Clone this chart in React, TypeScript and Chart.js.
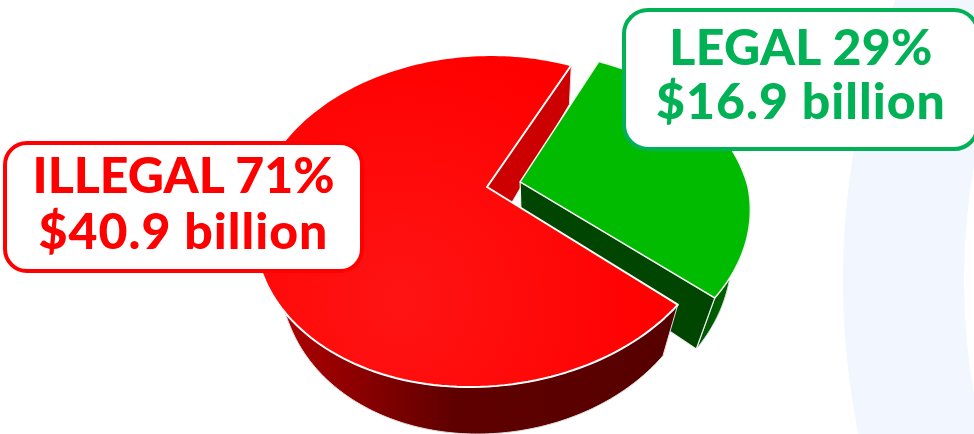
import React, { useEffect, useRef } from "react";
import { Chart, registerables } from "chart.js";

Chart.register(...registerables);

const categories = ["ILLEGAL", "LEGAL"];
const billions = [40.9, 16.9];
const shares = ["71%", "29%"];
const amounts = ["$40.9 billion", "$16.9 billion"];
const sliceColors = ["#ff0000", "#00bb00"];
const explodeOffsets = [0, 34];

const CX = 487, CY = 187, RX = 228, RY = 159, K = 0.205;
const VPX = 537, VPY = 789;

function project(u: number, v: number, low: boolean): [number, number] {
  const w = 1 - K * v;
  const skew = v > 0 ? -14 : -5;
  const rx = u < 0 && v > 0 ? RX - 8 * Math.min(v, 0.5) : RX;
  let x = CX + (rx * u + skew * v) / w;
  let y = CY + (RY * v) / w;
  if (low) {
    const t = 0.084 + 0.033 * v;
    x += (VPX - x) * t;
    y += (VPY - y) * t;
  }
  return [x, y];
}

const pie3d = {
  id: "pie3d",
  beforeDraw(chart: any) {
    const c = chart.ctx;
    c.save();
    c.fillStyle = "#f2f6fe";
    c.beginPath();
    c.arc(1620, 280, 777, 0, Math.PI * 2);
    c.arc(1620, 280, 656, 0, Math.PI * 2, true);
    c.fill("evenodd");
    c.restore();
  },
  beforeDatasetsDraw(chart: any) {
    const c = chart.ctx;
    const arcs = chart.getDatasetMeta(0).data;

    const geo = (i: number) => {
      const a = arcs[i];
      const p = a.getProps(["startAngle", "endAngle"], true);
      const mid = (p.startAngle + p.endAngle) / 2;
      const off = (a.options.offset || 0) / RX;
      const ou = off * Math.cos(mid);
      const ov = off * Math.sin(mid);
      return { s: p.startAngle, e: p.endAngle, ou, ov, color: a.options.backgroundColor };
    };
    const rim = (g: any, low: boolean, rev = false) => {
      const pts: [number, number][] = [];
      const n = 160;
      for (let j = 0; j <= n; j++) {
        const ang = g.s + ((g.e - g.s) * j) / n;
        pts.push(project(Math.cos(ang) + g.ou, Math.sin(ang) + g.ov, low));
      }
      return rev ? pts.reverse() : pts;
    };
    const poly = (pts: [number, number][], fill: any, stroke: string, lw: number) => {
      c.beginPath();
      pts.forEach((p, i) => (i ? c.lineTo(p[0], p[1]) : c.moveTo(p[0], p[1])));
      c.closePath();
      c.fillStyle = fill;
      c.fill();
      c.strokeStyle = stroke;
      c.lineWidth = lw;
      c.lineJoin = "round";
      c.stroke();
    };
    const wallStroke = "#dcdcdc";
    const red = geo(0);
    const green = geo(1);
    const apex = (g: any, low: boolean) => project(g.ou, g.ov, low);
    const at = (g: any, ang: number, low: boolean) =>
      project(Math.cos(ang) + g.ou, Math.sin(ang) + g.ov, low);

    c.save();
    // red cut face at the start of the gap
    poly([apex(red, false), at(red, red.e, false), at(red, red.e, true), apex(red, true)], "#cc0000", wallStroke, 1);

    // green walls and top
    const gw = c.createLinearGradient(680, 0, 750, 0);
    gw.addColorStop(0, "#005000");
    gw.addColorStop(1, "#006800");
    poly([...rim(green, false), ...rim(green, true, true)], gw, wallStroke, 1);
    poly([apex(green, false), at(green, green.e, false), at(green, green.e, true), apex(green, true)], "#004600", "#f0f0f0", 1.2);
    poly([apex(green, false), ...rim(green, false)], green.color, "#f4f4f4", 1.5);

    // red outer wall (near side only) and top
    const rw = c.createLinearGradient(262, 0, 690, 0);
    rw.addColorStop(0, "#b80000");
    rw.addColorStop(0.45, "#5f0000");
    rw.addColorStop(1, "#560000");
    const nearRed = { ...red, e: Math.PI * 1.1 };
    poly([...rim(nearRed, false), ...rim(nearRed, true, true)], rw, wallStroke, 1);

    const rt = c.createRadialGradient(400, 300, 0, 400, 300, 260);
    rt.addColorStop(0, "#ff1414");
    rt.addColorStop(1, red.color);
    poly([apex(red, false), ...rim(red, false)], rt, "#ffffff", 2);
    c.restore();
    return false;
  },
};

const boxBase: React.CSSProperties = {
  position: "absolute",
  boxSizing: "border-box",
  background: "#fff",
  textAlign: "center",
  fontFamily: "Lato, sans-serif",
  fontWeight: 900,
  fontSize: 50,
};

export default function App() {
  const ref = useRef<HTMLCanvasElement>(null);
  useEffect(() => {
    const chart = new Chart(ref.current!, {
      type: "pie",
      data: {
        labels: categories,
        datasets: [
          { data: billions, backgroundColor: sliceColors, offset: explodeOffsets, borderWidth: 0 },
        ],
      },
      options: {
        responsive: false,
        animation: false,
        rotation: 130,
        plugins: { legend: { display: false }, tooltip: { enabled: false } },
      },
      plugins: [pie3d],
    } as any);
    return () => chart.destroy();
  }, []);
  return (
    <div style={{ position: "fixed", left: 0, top: 0, width: 974, height: 434, overflow: "hidden", background: "#fff" }}>
      <canvas ref={ref} width={974} height={434} style={{ position: "absolute", left: 0, top: 0, width: 974, height: 434 }} />
      <div
        style={{
          ...boxBase,
          left: 3,
          top: 141,
          width: 361,
          height: 132,
          border: "4px solid #ff0000",
          borderRadius: 24,
          color: "#ff0000",
          lineHeight: "56px",
          paddingTop: 1,
        }}
      >
        <div>{categories[0]} {shares[0]}</div>
        <div style={{ letterSpacing: 1 }}>{amounts[0]}</div>
      </div>
      <div
        style={{
          ...boxBase,
          left: 622,
          top: 8,
          width: 358,
          height: 143,
          border: "4px solid #00b155",
          borderRadius: 26,
          color: "#00b155",
          lineHeight: "54px",
          paddingTop: 7,
        }}
      >
        <div style={{ letterSpacing: 0.3 }}>{categories[1]} {shares[1]}</div>
        <div style={{ letterSpacing: 1 }}>{amounts[1]}</div>
      </div>
    </div>
  );
}
